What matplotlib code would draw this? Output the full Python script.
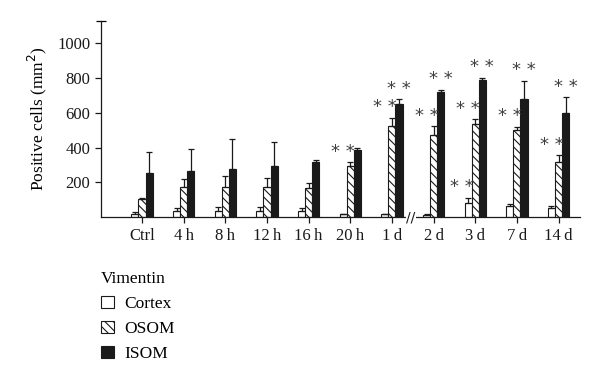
import numpy as np
import matplotlib
matplotlib.use("Agg")
import matplotlib.pyplot as plt
from matplotlib.patches import Patch

plt.rcParams["font.family"] = ["Liberation Serif", "DejaVu Serif"]
plt.rcParams["hatch.linewidth"] = 0.8

groups = ["Ctrl", "4\u2009h", "8\u2009h", "12\u2009h", "16\u2009h", "20\u2009h",
          "1\u2009d", "2\u2009d", "3\u2009d", "7\u2009d", "14\u2009d"]
series = ["Cortex", "OSOM", "ISOM"]

cortex = [17, 36, 38, 36, 35, 17, 17, 13, 82, 63, 52]
cortex_err = [12, 18, 19, 20, 15, 4, 4, 4, 29, 10, 11]
osom = [105, 172, 172, 172, 165, 295, 523, 475, 538, 500, 316]
osom_err = [8, 47, 66, 52, 31, 21, 48, 48, 25, 19, 40]
isom = [253, 265, 276, 293, 315, 388, 648, 720, 791, 682, 598]
isom_err = [119, 128, 175, 140, 15, 9, 30, 12, 10, 102, 90]

# significance flags (** markers)
cortex_sig = [0, 0, 0, 0, 0, 0, 0, 0, 1, 0, 0]
osom_sig = [0, 0, 0, 0, 0, 1, 1, 1, 1, 1, 1]
isom_sig = [0, 0, 0, 0, 0, 0, 1, 1, 1, 1, 1]

fig = plt.figure(figsize=(6.0, 3.81), dpi=100)
ax = fig.add_axes([0.168, 0.430, 0.799, 0.516])

x = np.arange(len(groups))
w = 0.17
offsets = [-w, 0.0, w]
vals = [cortex, osom, isom]
errs = [cortex_err, osom_err, isom_err]
sigs = [cortex_sig, osom_sig, isom_sig]
styles = [dict(color="white", hatch=None),
          dict(color="white", hatch="\\\\\\\\"),
          dict(color="#1a1a1a", hatch=None)]
star_shift = [-0.14, -0.17, 0.0]

for v, e, s, off, st, sh in zip(vals, errs, sigs, offsets, styles, star_shift):
    ax.bar(x + off, v, width=w, color=st["color"], edgecolor="#1a1a1a",
           hatch=st["hatch"], linewidth=0.8, zorder=2)
    ax.errorbar(x + off, v, yerr=[np.zeros(len(v)), e], fmt="none",
                ecolor="#1a1a1a", elinewidth=0.9, capsize=2.2, capthick=0.9, zorder=3)
    for xi, vi, ei, si in zip(x, v, e, s):
        if si:
            ax.annotate("* *", (xi + off + sh, vi + ei), xytext=(0, 1),
                        textcoords="offset points", ha="center", va="bottom",
                        fontsize=13, color="#404040", family="DejaVu Sans")

ax.set_xlim(-0.99, 10.52)
ax.set_ylim(0, 1130)
ax.set_yticks([200, 400, 600, 800, 1000])
ax.set_yticks([1130], minor=True)
ax.tick_params(axis="y", which="minor", direction="inout", length=7, width=0.9)
ax.set_xticks(x)
ax.set_xticklabels(groups)
ax.tick_params(axis="both", which="major", direction="out", length=4, width=0.9,
               labelsize=12, colors="#1a1a1a")
for side in ["top", "right"]:
    ax.spines[side].set_visible(False)
for side in ["left", "bottom"]:
    ax.spines[side].set_linewidth(0.9)
    ax.spines[side].set_color("#1a1a1a")
ax.set_ylabel("Positive cells (mm$^2$)", fontsize=12.5, labelpad=6)

# axis break between 1 d and 2 d
bx = (x[6] + x[7]) / 2 - 0.05
ax.text(bx, 0, "//", ha="center", va="center", fontsize=10, color="#1a1a1a",
        family="DejaVu Sans", clip_on=False, zorder=5,
        bbox=dict(facecolor="white", edgecolor="none", pad=0.3))

handles = [Patch(facecolor="white", edgecolor="#1a1a1a", linewidth=0.8),
           Patch(facecolor="white", edgecolor="#1a1a1a", hatch="\\\\\\\\", linewidth=0.8),
           Patch(facecolor="#1a1a1a", edgecolor="#1a1a1a", linewidth=0.8)]
leg = fig.legend(handles, series, title="Vimentin", loc="upper left",
                 bbox_to_anchor=(0.168, 0.289), frameon=False, fontsize=12.5,
                 title_fontsize=12.5, alignment="left", handlelength=0.75,
                 handleheight=0.75, handletextpad=0.6, labelspacing=0.5,
                 borderaxespad=0, borderpad=0)

fig.savefig("out.png", dpi=100)
